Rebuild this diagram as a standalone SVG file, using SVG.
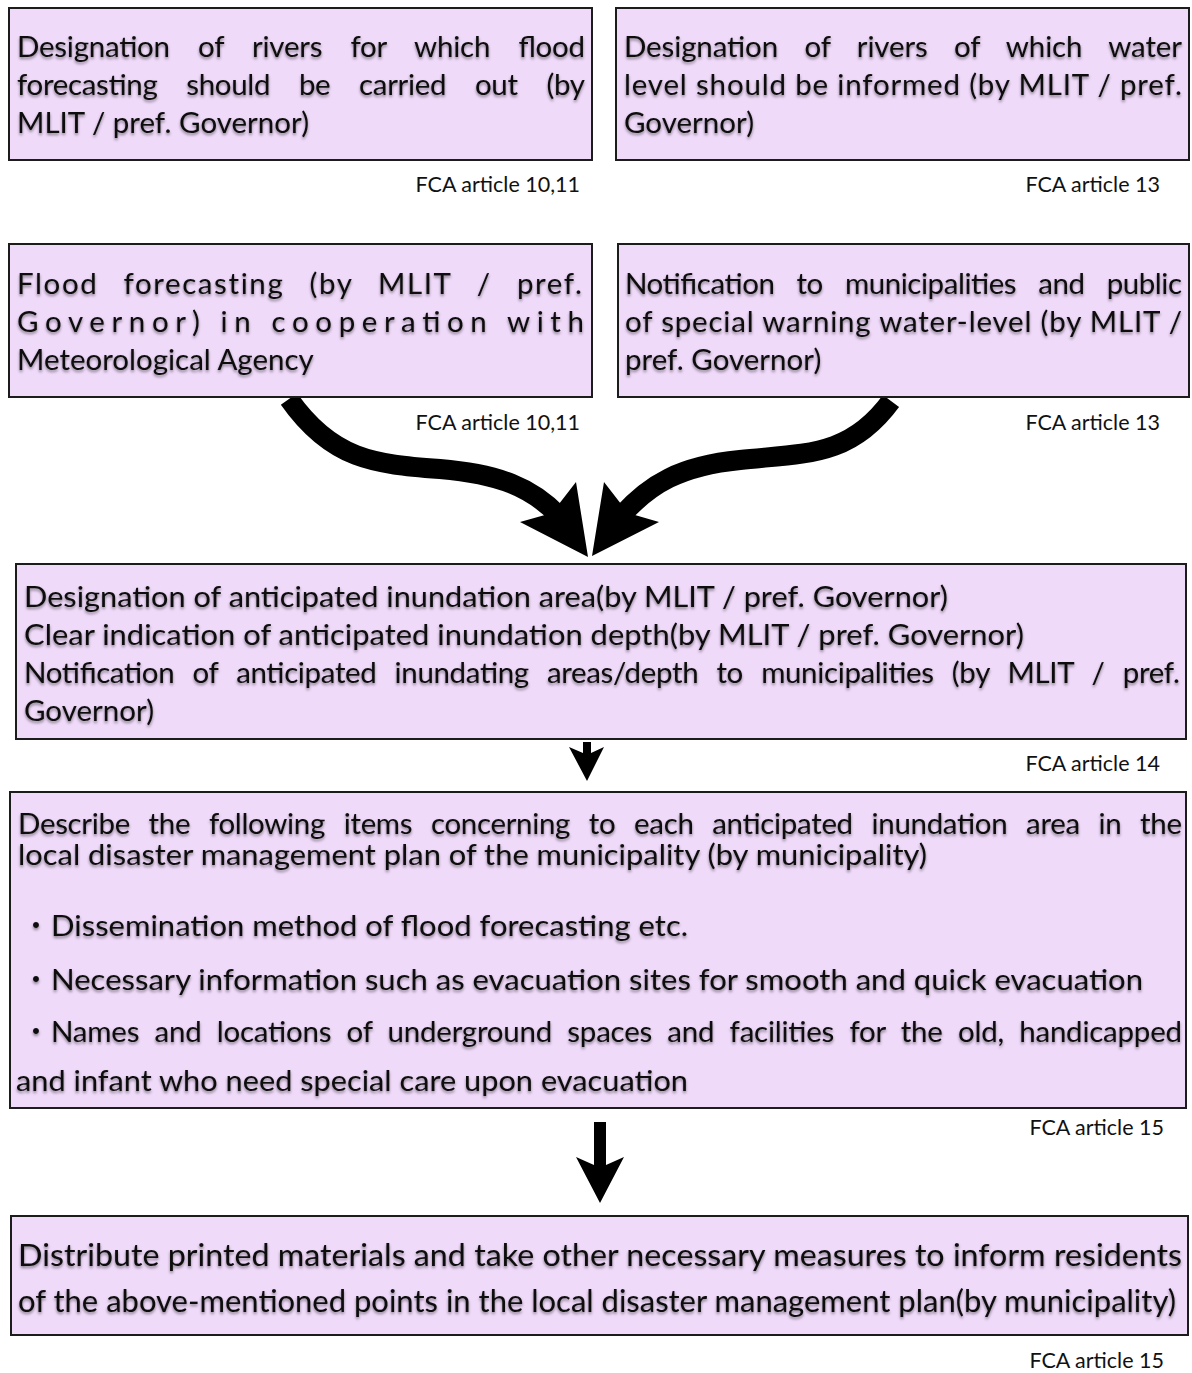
<svg xmlns="http://www.w3.org/2000/svg" width="1192" height="1373" viewBox="0 0 1192 1373">
  <defs>
    <filter id="soft" x="-5%" y="-30%" width="110%" height="170%">
      <feDropShadow dx="0" dy="2" stdDeviation="1.4" flood-color="#000" flood-opacity="0.45"/>
    </filter>
  </defs>
  <style>
    .box { fill: #f0dafa; stroke: #1c1c1c; stroke-width: 2; }
    .t { font-family: Lato, "Open Sans", "Liberation Sans", sans-serif; font-size: 29.5px; fill: #111; filter: url(#soft); }
    .big { font-size: 31px; }
    .dot { font-family: "Noto Sans CJK JP", sans-serif; font-size: 28px; }
    .ref { font-family: Lato, "Open Sans", "Liberation Sans", sans-serif; font-size: 21.5px; fill: #111; text-anchor: end; }
    .shaft { fill: none; stroke: #000; stroke-width: 20; stroke-linecap: butt; }
    .head { fill: #000; }
  </style>
  <rect width="1192" height="1373" fill="#fff"/>

  <!-- connectors -->
  <g id="connectors">
    <path class="shaft" d="M289 399 C332 460 374 464 440 469 C500 474 532 488 558 515"/>
    <polygon class="head" points="588,557 520,522 552,513 576,482"/>
    <path class="shaft" d="M891 401 C850 457 806 453 740 460 C680 466 650 484 622 515"/>
    <polygon class="head" points="592,556 604,482 628,513 659,522"/>
    <polygon class="head" points="583,742 591,742 591,753 604,747 587,781 569,747 583,753"/>
    <polygon class="head" points="594,1122 606,1122 606,1165 624,1157 600,1203 576,1157 594,1165"/>
  </g>

  <!-- designation of forecast rivers -->
  <g id="node-forecast-rivers">
    <rect class="box" x="9" y="8" width="583" height="152"/>
    <text class="t" x="17" y="57" word-spacing="21" textLength="568" lengthAdjust="spacing"><tspan>Designation</tspan> <tspan>of</tspan> <tspan>rivers</tspan> <tspan>for</tspan> <tspan>which</tspan> <tspan>flood</tspan></text>
    <text class="t" x="17" y="95" word-spacing="21.5" textLength="568" lengthAdjust="spacing"><tspan>forecasting</tspan> <tspan>should</tspan> <tspan>be</tspan> <tspan>carried</tspan> <tspan>out</tspan> <tspan>(by</tspan></text>
    <text class="t" x="17" y="133">MLIT / pref. Governor)</text>
    <text class="ref" x="580" y="192">FCA article 10,11</text>
  </g>

  <!-- designation of water-level rivers -->
  <g id="node-waterlevel-rivers">
    <rect class="box" x="616" y="8" width="573" height="152"/>
    <text class="t" x="624" y="57" word-spacing="19" textLength="558" lengthAdjust="spacing"><tspan>Designation</tspan> <tspan>of</tspan> <tspan>rivers</tspan> <tspan>of</tspan> <tspan>which</tspan> <tspan>water</tspan></text>
    <text class="t" x="624" y="95" textLength="558" lengthAdjust="spacing">level should be informed (by MLIT / pref.</text>
    <text class="t" x="624" y="133">Governor)</text>
    <text class="ref" x="1160" y="192">FCA article 13</text>
  </g>

  <!-- flood forecasting -->
  <g id="node-flood-forecasting">
    <rect class="box" x="9" y="244" width="583" height="153"/>
    <text class="t" x="17" y="294" letter-spacing="2" word-spacing="16" textLength="567" lengthAdjust="spacing"><tspan>Flood</tspan> <tspan>forecasting</tspan> <tspan>(by</tspan> <tspan>MLIT</tspan> <tspan>/</tspan> <tspan>pref.</tspan></text>
    <text class="t" x="17" y="332" textLength="567" lengthAdjust="spacing"><tspan>Governor)</tspan> <tspan>in</tspan> <tspan>cooperation</tspan> <tspan>with</tspan></text>
    <text class="t" x="17" y="370">Meteorological Agency</text>
    <text class="ref" x="580" y="430">FCA article 10,11</text>
  </g>

  <!-- water-level notification -->
  <g id="node-notification">
    <rect class="box" x="618" y="244" width="571" height="153"/>
    <text class="t" x="625" y="294" word-spacing="15" textLength="557" lengthAdjust="spacing"><tspan>Notification</tspan> <tspan>to</tspan> <tspan>municipalities</tspan> <tspan>and</tspan> <tspan>public</tspan></text>
    <text class="t" x="625" y="332" textLength="557" lengthAdjust="spacing">of special warning water-level (by MLIT /</text>
    <text class="t" x="625" y="370">pref. Governor)</text>
    <text class="ref" x="1160" y="430">FCA article 13</text>
  </g>

  <!-- inundation area -->
  <g id="node-inundation">
    <rect class="box" x="16" y="564" width="1170" height="175"/>
    <text class="t" x="24" y="607" textLength="924" lengthAdjust="spacingAndGlyphs">Designation of anticipated inundation area(by MLIT / pref. Governor)</text>
    <text class="t" x="24" y="645" textLength="1000" lengthAdjust="spacingAndGlyphs">Clear indication of anticipated inundation depth(by MLIT / pref. Governor)</text>
    <text class="t" x="24" y="683" word-spacing="11" textLength="1156" lengthAdjust="spacing"><tspan>Notification</tspan> <tspan>of</tspan> <tspan>anticipated</tspan> <tspan>inundating</tspan> <tspan>areas/depth</tspan> <tspan>to</tspan> <tspan>municipalities</tspan> <tspan>(by</tspan> <tspan>MLIT</tspan> <tspan>/</tspan> <tspan>pref.</tspan></text>
    <text class="t" x="24" y="721">Governor)</text>
    <text class="ref" x="1160" y="771">FCA article 14</text>
  </g>

  <!-- local disaster management plan -->
  <g id="node-plan">
    <rect class="box" x="10" y="792" width="1176" height="316"/>
    <text class="t" x="18" y="834" word-spacing="11.5" textLength="1164" lengthAdjust="spacing">Describe the following items concerning to each anticipated inundation area in the</text>
    <text class="t" x="18" y="865" textLength="909" lengthAdjust="spacingAndGlyphs">local disaster management plan of the municipality (by municipality)</text>
    <text class="t" y="936"><tspan class="dot" x="22">・</tspan><tspan x="51" textLength="637" lengthAdjust="spacingAndGlyphs">Dissemination method of flood forecasting etc.</tspan></text>
    <text class="t" y="990"><tspan class="dot" x="22">・</tspan><tspan x="51" textLength="1092" lengthAdjust="spacingAndGlyphs">Necessary information such as evacuation sites for smooth and quick evacuation</tspan></text>
    <text class="t" y="1042"><tspan class="dot" x="22">・</tspan><tspan x="51" word-spacing="8" textLength="1131" lengthAdjust="spacing">Names and locations of underground spaces and facilities for the old, handicapped</tspan></text>
    <text class="t" x="16" y="1091" textLength="672" lengthAdjust="spacingAndGlyphs">and infant who need special care upon evacuation</text>
    <text class="ref" x="1164" y="1135">FCA article 15</text>
  </g>

  <!-- informing residents -->
  <g id="node-residents">
    <rect class="box" x="11" y="1216" width="1177" height="119"/>
    <text class="t big" x="18" y="1266" textLength="1164" lengthAdjust="spacingAndGlyphs">Distribute printed materials and take other necessary measures to inform residents</text>
    <text class="t big" x="18" y="1312" textLength="1158" lengthAdjust="spacingAndGlyphs">of the above-mentioned points in the local disaster management plan(by municipality)</text>
    <text class="ref" x="1164" y="1368">FCA article 15</text>
  </g>
</svg>
